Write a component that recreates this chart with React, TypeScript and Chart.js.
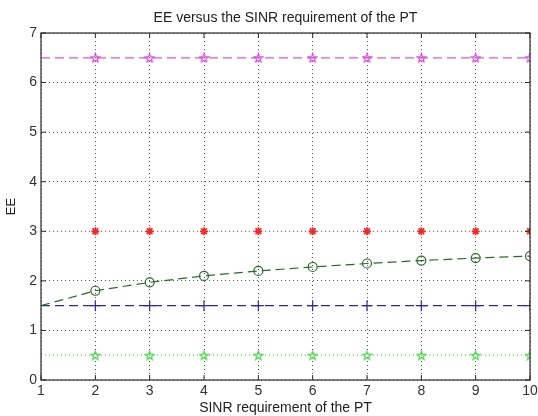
import React, { useEffect, useRef } from "react";
import { Chart, registerables } from "chart.js";
Chart.register(...registerables);

const sinrValues = [1, 2, 3, 4, 5, 6, 7, 8, 9, 10];
const magentaSeries = [6.5, 6.5, 6.5, 6.5, 6.5, 6.5, 6.5, 6.5, 6.5, 6.5];
const redSeries = [3, 3, 3, 3, 3, 3, 3, 3, 3, 3];
const circleSeries = [1.5, 1.8, 1.97, 2.1, 2.2, 2.28, 2.35, 2.41, 2.46, 2.5];
const blueSeries = [1.5, 1.5, 1.5, 1.5, 1.5, 1.5, 1.5, 1.5, 1.5, 1.5];
const greenSeries = [0.5, 0.5, 0.5, 0.5, 0.5, 0.5, 0.5, 0.5, 0.5, 0.5];
const yTickValues = [0, 1, 2, 3, 4, 5, 6, 7];
const titleText = "EE versus the SINR requirement of the PT";
const xLabel = "SINR requirement of the PT";
const yLabel = "EE";

const FONT = '"Liberation Sans", Arial, sans-serif';

function makePentagram(color: string, size: number) {
  const c = document.createElement("canvas");
  c.width = size;
  c.height = size;
  const ctx = c.getContext("2d")!;
  const cx = size / 2;
  const cy = size / 2 + 0.5;
  const r = size / 2 - 1;
  const ri = r * 0.42;
  ctx.beginPath();
  for (let i = 0; i < 10; i++) {
    const a = -Math.PI / 2 + (i * Math.PI) / 5;
    const rr = i % 2 === 0 ? r : ri;
    const px = cx + rr * Math.cos(a);
    const py = cy + rr * Math.sin(a);
    if (i === 0) ctx.moveTo(px, py);
    else ctx.lineTo(px, py);
  }
  ctx.closePath();
  ctx.strokeStyle = color;
  ctx.lineWidth = 1.2;
  ctx.stroke();
  return c;
}

const pts = (ys: number[]) => sinrValues.map((x, i) => ({ x, y: ys[i] }));
const radii = (r: number) => sinrValues.map((_, i) => (i === 0 ? 0 : r));

const framePlugin = {
  id: "frame",
  afterDatasetsDraw(chart: any) {
    const { ctx, chartArea: a, scales } = chart;
    ctx.save();
    ctx.setLineDash([]);
    ctx.strokeStyle = "#2a2a2a";
    ctx.lineWidth = 1.2;
    ctx.strokeRect(a.left, a.top, a.right - a.left, a.bottom - a.top);
    ctx.lineWidth = 1;
    ctx.beginPath();
    for (const x of sinrValues) {
      const px = scales.x.getPixelForValue(x);
      ctx.moveTo(px, a.bottom);
      ctx.lineTo(px, a.bottom - 5);
      ctx.moveTo(px, a.top);
      ctx.lineTo(px, a.top + 5);
    }
    for (const y of yTickValues) {
      const py = scales.y.getPixelForValue(y);
      ctx.moveTo(a.left, py);
      ctx.lineTo(a.left + 5, py);
      ctx.moveTo(a.right, py);
      ctx.lineTo(a.right - 5, py);
    }
    ctx.stroke();
    ctx.restore();
  },
};

export default function App() {
  const ref = useRef<HTMLCanvasElement>(null);
  useEffect(() => {
    if (!ref.current) return;
    Chart.defaults.font.family = FONT;
    const magentaStar = makePentagram("#d848d8", 11);
    const greenStar = makePentagram("#48d848", 11);
    const chart = new Chart(ref.current, {
      type: "line",
      data: {
        datasets: [
          {
            data: pts(magentaSeries),
            borderColor: "#dc58dc",
            borderWidth: 1.2,
            borderDash: [9, 5],
            pointStyle: magentaStar as any,
            pointRadius: radii(5),
            fill: false,
          },
          {
            data: pts(redSeries),
            borderColor: "#e84a4a",
            borderWidth: 1.2,
            borderDash: [1, 3],
            pointStyle: "star",
            pointRadius: radii(4),
            pointBorderColor: "#f02a2a",
            pointBorderWidth: 1.8,
            fill: false,
          },
          {
            data: pts(circleSeries),
            borderColor: "#2a6a2a",
            borderWidth: 1.2,
            borderDash: [9, 5],
            pointStyle: "circle",
            pointRadius: radii(4.5),
            pointBorderColor: "#2a6a2a",
            pointBackgroundColor: "rgba(0,0,0,0)",
            pointBorderWidth: 1.2,
            fill: false,
          },
          {
            data: pts(blueSeries),
            borderColor: "#2a2a9a",
            borderWidth: 1.4,
            borderDash: [9, 5],
            pointStyle: "cross",
            pointRadius: radii(5.5),
            pointBorderColor: "#2a2a9a",
            pointBorderWidth: 1.2,
            fill: false,
          },
          {
            data: pts(greenSeries),
            borderColor: "#58d858",
            borderWidth: 1.2,
            borderDash: [1, 3],
            pointStyle: greenStar as any,
            pointRadius: radii(5),
            fill: false,
          },
        ],
      },
      options: {
        animation: false,
        responsive: false,
        layout: { padding: 0 },
        plugins: {
          legend: { display: false },
          tooltip: { enabled: false },
          title: {
            display: true,
            fullSize: false,
            text: titleText,
            color: "#222",
            font: { size: 14, weight: "normal", family: FONT },
            padding: { top: 10, bottom: 6.2 },
          },
        },
        scales: {
          x: {
            type: "linear",
            min: 1,
            max: 10,
            ticks: { stepSize: 1, color: "#333", font: { size: 14 }, padding: 3 },
            grid: { color: "#555", lineWidth: 1, drawTicks: false },
            border: { display: false, dash: [1, 3] },
            title: {
              display: true,
              text: xLabel,
              color: "#222",
              font: { size: 14 },
              padding: { top: 0, bottom: -1 },
            },
            afterFit(scale: any) {
              scale.height = 36;
              scale.paddingLeft = 0;
              scale.paddingRight = 8;
            },
          },
          y: {
            min: 0,
            max: 7,
            ticks: { stepSize: 1, color: "#333", font: { size: 14 }, padding: 4 },
            grid: { color: "#555", lineWidth: 1, drawTicks: false },
            border: { display: false, dash: [1, 3] },
            title: {
              display: true,
              text: yLabel,
              color: "#222",
              font: { size: 13 },
              padding: { top: 4, bottom: 0 },
            },
            afterFit(scale: any) {
              scale.width = 41;
              scale.paddingTop = 0;
              scale.paddingBottom = 0;
            },
          },
        },
      },
      plugins: [framePlugin],
    });
    return () => chart.destroy();
  }, []);
  return (
    <div style={{ position: "fixed", left: 0, top: 0, width: 538, height: 416, background: "#fff" }}>
      <canvas ref={ref} width={538} height={416} />
    </div>
  );
}
